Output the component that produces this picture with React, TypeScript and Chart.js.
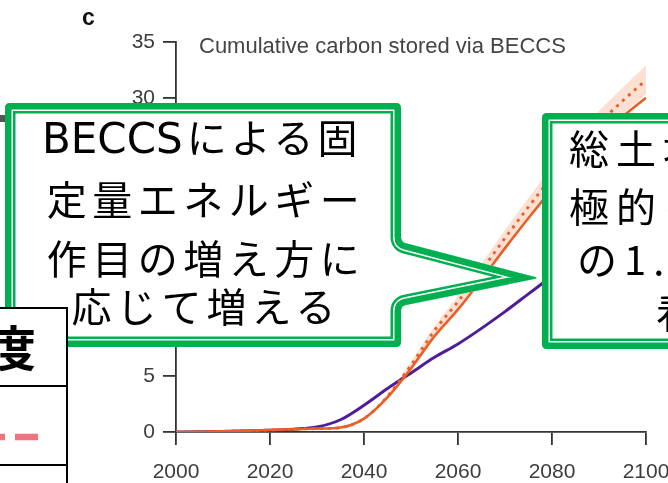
import React, { useEffect, useRef } from "react";
import { Chart, registerables } from "chart.js";

Chart.register(...registerables);

// Cumulative carbon stored via BECCS (GtC), five-year steps
const years = [2000, 2005, 2010, 2015, 2020, 2025, 2030, 2035, 2040, 2045, 2050, 2055, 2060, 2065, 2070, 2075, 2080, 2085, 2090, 2095, 2100];
const energyCrops = [0, 0.02, 0.06, 0.12, 0.18, 0.25, 0.3, 0.4, 1.2, 3.1, 5.7, 8.6, 11.0, 13.7, 16.5, 19.2, 21.8, 24.2, 26.4, 28.3, 30.0];
const energyCropsAlt = [0, 0.02, 0.06, 0.12, 0.18, 0.25, 0.3, 0.4, 1.2, 3.2, 6.0, 9.1, 11.7, 14.5, 17.4, 20.2, 22.9, 25.4, 27.7, 29.7, 31.6];
const energyCropsAltLow = [0, 0.02, 0.06, 0.12, 0.18, 0.25, 0.3, 0.4, 1.2, 3.0, 5.7, 8.7, 11.2, 13.9, 16.7, 19.4, 22.0, 24.4, 26.6, 28.5, 30.3];
const energyCropsAltHigh = [0, 0.02, 0.06, 0.12, 0.18, 0.25, 0.3, 0.4, 1.2, 3.4, 6.3, 9.5, 12.2, 15.1, 18.1, 21.0, 23.8, 26.4, 28.8, 30.9, 32.9];
const forestPathway = [0, 0.02, 0.05, 0.09, 0.15, 0.25, 0.45, 1.1, 2.4, 3.9, 5.3, 6.7, 7.9, 9.3, 10.8, 12.4, 14.0, 15.7, 17.4, 19.1, 20.8];

const yTickValues = [0, 5, 10, 15, 20, 25, 30, 35];
const xTickValues = [2000, 2020, 2040, 2060, 2080, 2100];

const PANEL_LABEL = "c";
const CHART_TITLE = "Cumulative carbon stored via BECCS";

const leftNote = ["BECCSによる固", "定量エネルギー", "作目の増え方に", "応じて増える"];
const rightNote = ["総土地面積を積", "極的に利用すると", "の1.5倍の", "看過できない"];
const tableHeader = "温暖化の程度";

const GREEN = "#00B050";
const ORANGE = "#EB5E24";
const PURPLE = "#4E1E99";
const AXIS = "#333";
const TICK_TEXT = "#3d3d3d";
const SANS = '"Liberation Sans", Arial, Helvetica, sans-serif';
const JP = '"Noto Sans CJK JP", "Noto Sans", sans-serif';
const JP_LATIN = '"DejaVu Sans", "Noto Sans", sans-serif';

type Pt = [number, number];

// closed polygon with softened corners
function roundedPath(pts: Pt[], r: number): string {
  const n = pts.length;
  let d = "";
  for (let i = 0; i < n; i++) {
    const p0 = pts[(i - 1 + n) % n];
    const p1 = pts[i];
    const p2 = pts[(i + 1) % n];
    const l1 = Math.hypot(p0[0] - p1[0], p0[1] - p1[1]);
    const l2 = Math.hypot(p2[0] - p1[0], p2[1] - p1[1]);
    const rr = Math.min(r, l1 / 2, l2 / 2);
    const a: Pt = [p1[0] + ((p0[0] - p1[0]) / l1) * rr, p1[1] + ((p0[1] - p1[1]) / l1) * rr];
    const b: Pt = [p1[0] + ((p2[0] - p1[0]) / l2) * rr, p1[1] + ((p2[1] - p1[1]) / l2) * rr];
    d += `${i === 0 ? "M" : "L"}${a[0].toFixed(2)},${a[1].toFixed(2)} Q${p1[0]},${p1[1]} ${b[0].toFixed(2)},${b[1].toFixed(2)} `;
  }
  return d + "Z";
}

const leftShape: Pt[] = [
  [5, 103], [401, 103], [401, 242], [539, 278], [401, 306], [401, 347], [5, 347],
];
const rightShape: Pt[] = [
  [542, 113], [820, 113], [820, 349], [542, 349],
];

function Callout({ id, shape }: { id: string; shape: Pt[] }) {
  const d = roundedPath(shape, 5);
  return (
    <g>
      <defs>
        <clipPath id={id}>
          <path d={d} />
        </clipPath>
      </defs>
      <path d={d} fill="#fff" />
      <path d={d} fill="none" stroke={GREEN} strokeWidth={21} strokeLinejoin="round" clipPath={`url(#${id})`} />
      <path d={d} fill="none" stroke="#fff" strokeWidth={16} strokeLinejoin="round" clipPath={`url(#${id})`} />
      <path d={d} fill="none" stroke={GREEN} strokeWidth={13} strokeLinejoin="round" clipPath={`url(#${id})`} />
    </g>
  );
}

function CarbonChart() {
  const ref = useRef<HTMLCanvasElement | null>(null);

  useEffect(() => {
    const canvas = ref.current;
    if (!canvas) return;
    const pts = (ys: number[]) => years.map((x, i) => ({ x, y: ys[i] }));

    const headings = {
      id: "headings",
      afterDraw(chart: any) {
        const ctx = chart.ctx as CanvasRenderingContext2D;
        ctx.save();
        ctx.textBaseline = "alphabetic";
        ctx.textAlign = "left";
        ctx.fillStyle = "#111";
        ctx.font = `bold 23px ${SANS}`;
        ctx.fillText(PANEL_LABEL, 82, 25);
        ctx.fillStyle = "#444";
        ctx.font = `22px ${SANS}`;
        ctx.fillText(CHART_TITLE, 199, 53);
        ctx.restore();
      },
    };

    const tickFont = { family: SANS, size: 21 };

    const chart = new Chart(canvas, {
      type: "line",
      data: {
        datasets: [
          {
            label: "range high",
            data: pts(energyCropsAltHigh),
            borderWidth: 0,
            pointRadius: 0,
            backgroundColor: "rgba(247,186,158,0.45)",
            fill: "+1",
            cubicInterpolationMode: "monotone",
            order: 5,
          },
          {
            label: "range low",
            data: pts(energyCropsAltLow),
            borderWidth: 0,
            pointRadius: 0,
            fill: false,
            cubicInterpolationMode: "monotone",
            order: 5,
          },
          {
            label: "forest",
            data: pts(forestPathway),
            borderColor: PURPLE,
            borderWidth: 3,
            pointRadius: 0,
            fill: false,
            cubicInterpolationMode: "monotone",
            order: 3,
          },
          {
            label: "energy crops",
            data: pts(energyCrops),
            borderColor: ORANGE,
            borderWidth: 2.6,
            pointRadius: 0,
            fill: false,
            cubicInterpolationMode: "monotone",
            order: 2,
          },
          {
            label: "energy crops (alt)",
            data: pts(energyCropsAlt),
            borderColor: ORANGE,
            borderWidth: 2.8,
            borderDash: [3, 5],
            pointRadius: 0,
            fill: false,
            cubicInterpolationMode: "monotone",
            order: 1,
          },
        ],
      },
      options: {
        animation: false,
        responsive: false,
        devicePixelRatio: 1,
        layout: { padding: { top: 42, right: 54, bottom: 0, left: 0 } },
        plugins: {
          legend: { display: false },
          tooltip: { enabled: false },
          title: { display: false },
        },
        scales: {
          x: {
            type: "linear",
            min: xTickValues[0],
            max: xTickValues[xTickValues.length - 1],
            afterBuildTicks: (s: any) => {
              s.ticks = xTickValues.map((v) => ({ value: v }));
            },
            afterFit: (s: any) => {
              s.height = 51;
            },
            ticks: {
              color: TICK_TEXT,
              font: tickFont,
              padding: 15,
              maxRotation: 0,
              autoSkip: false,
              callback: (v: any) => String(v),
            },
            grid: {
              drawOnChartArea: false,
              drawTicks: true,
              tickLength: 13,
              color: AXIS,
              lineWidth: 1.8,
            },
            border: { display: true, color: AXIS, width: 1.8 },
          },
          y: {
            type: "linear",
            min: yTickValues[0],
            max: yTickValues[yTickValues.length - 1],
            afterBuildTicks: (s: any) => {
              s.ticks = yTickValues.map((v) => ({ value: v }));
            },
            afterFit: (s: any) => {
              s.width = 176;
            },
            ticks: {
              color: TICK_TEXT,
              font: tickFont,
              padding: 8,
              callback: (v: any) => String(v),
            },
            grid: {
              drawOnChartArea: false,
              drawTicks: true,
              tickLength: 13,
              color: AXIS,
              lineWidth: 1.8,
            },
            border: { display: true, color: AXIS, width: 1.8 },
          },
        },
      },
      plugins: [headings],
    } as any);

    return () => chart.destroy();
  }, []);

  return (
    <canvas
      ref={ref}
      width={700}
      height={483}
      style={{ position: "absolute", left: 0, top: 0, width: 700, height: 483 }}
    />
  );
}

// splits a line into Latin and CJK runs; Latin gets a wider face, CJK a little tracking
function Runs({ text }: { text: string }) {
  const parts = text.match(/[A-Za-z]+|[^A-Za-z]+/g) || [text];
  return (
    <>
      {parts.map((p, i) =>
        /^[A-Za-z]/.test(p) ? (
          <tspan key={i} fontFamily={JP_LATIN} fontSize={42}>
            {p}
          </tspan>
        ) : (
          <tspan key={i} dx={4} letterSpacing={4}>
            {p}
          </tspan>
        )
      )}
    </>
  );
}

export default function App() {
  const leftBaselines = [153, 215, 274, 322];
  const leftSpacing = [4, 5.5, 5.5, 5];
  const rightLines: { x: number; y: number }[] = [
    { x: 569, y: 164 },
    { x: 569, y: 222 },
    { x: 577, y: 275 },
    { x: 656, y: 328 },
  ];

  return (
    <div
      style={{
        position: "fixed",
        left: 0,
        top: 0,
        width: 668,
        height: 483,
        overflow: "hidden",
        background: "#fff",
      }}
    >
      <CarbonChart />

      {/* edge of a neighbouring panel */}
      <div style={{ position: "absolute", left: 0, top: 115, width: 5, height: 7, background: "#555" }} />

      <svg width={820} height={483} style={{ position: "absolute", left: 0, top: 0 }}>
        <Callout id="noteLeft" shape={leftShape} />
        <Callout id="noteRight" shape={rightShape} />
        <g fontFamily={JP} fontSize={40} fill="#000">
          {leftNote.map((t, i) =>
            i === 0 ? (
              <text key={t} x={42} y={leftBaselines[i]} textAnchor="start">
                <Runs text={t} />
              </text>
            ) : (
              <text key={t} x={206} y={leftBaselines[i]} textAnchor="middle" letterSpacing={leftSpacing[i]}>
                {t}
              </text>
            )
          )}
          {rightNote.map((t, i) => (
            <text key={t} x={rightLines[i].x} y={rightLines[i].y} textAnchor="start" letterSpacing={7}>
              {t}
            </text>
          ))}
        </g>
      </svg>

      {/* legend table at the lower left */}
      <div
        style={{
          position: "absolute",
          left: -400,
          top: 307,
          width: 468,
          height: 300,
          boxSizing: "border-box",
          border: "2.5px solid #000",
          background: "#fff",
        }}
      >
        <div style={{ position: "absolute", left: 0, right: 0, top: 76, height: 2, background: "#000" }} />
        <div style={{ position: "absolute", left: 0, right: 0, top: 155, height: 2, background: "#000" }} />
      </div>
      <svg width={120} height={483} style={{ position: "absolute", left: 0, top: 0 }}>
        <text x={36} y={366} textAnchor="end" fontFamily={JP} fontWeight="bold" fontSize={48} fill="#000">
          {tableHeader}
        </text>
        <line x1={38} y1={437} x2={-300} y2={437} stroke="#EE7580" strokeWidth={6.5} strokeDasharray="23 10" />
      </svg>
    </div>
  );
}
